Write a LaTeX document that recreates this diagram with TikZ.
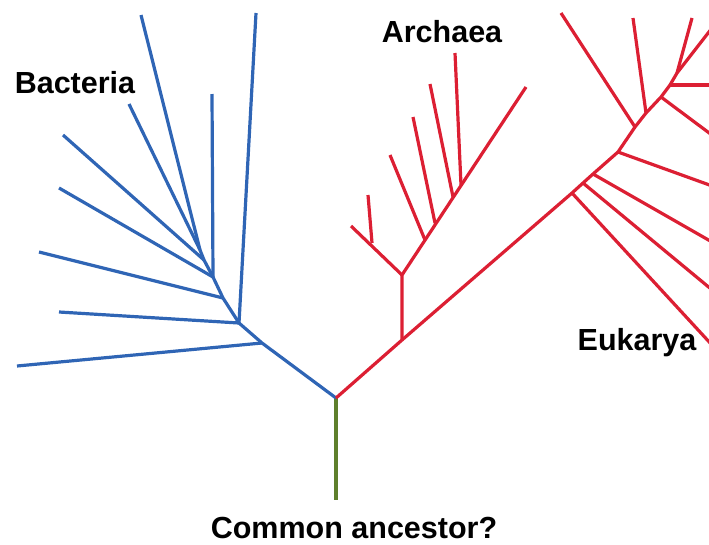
\documentclass[tikz,border=0pt]{standalone}
\usepackage{fontspec}
\setmainfont{Liberation Sans}
\usetikzlibrary{positioning}
\definecolor{BactBlue}{HTML}{2F65B5}
\definecolor{ArchRed}{HTML}{DC1F33}
\definecolor{RootGreen}{HTML}{5E7F2C}

\begin{document}
\begin{tikzpicture}[
    x=1pt,y=-1pt,
    branch/.style={line width=3.2pt,line join=round},
    groupname/.style={
      font=\fontsize{30.5}{36}\selectfont\bfseries,
      anchor=base,
      inner sep=0pt
    }
  ]
  \useasboundingbox (0,0) rectangle (709,544);
  % root and stem
  \coordinate (root) at (336,398);
  \coordinate (stem) at (336,500);
  % bacteria
  \coordinate (b1) at (262,343);
  \coordinate (b2) at (239,323);
  \coordinate (b3) at (223,298);
  \coordinate (b4) at (213,277);
  \coordinate (b5) at (204,260);
  \coordinate (b6) at (200,250);
  \coordinate (bt1) at (17,366);
  \coordinate (bt2) at (59,312);
  \coordinate (bt3) at (256,13);
  \coordinate (bt4) at (39,252);
  \coordinate (bt5) at (212,94);
  \coordinate (bt6) at (59,188);
  \coordinate (bt7) at (63,135);
  \coordinate (bt8) at (129,104);
  \coordinate (bt9) at (141,15);
  % archaea
  \coordinate (a0) at (402,340);
  \coordinate (a1) at (402,275);
  \coordinate (a2) at (372,243);
  \coordinate (a3) at (425,240);
  \coordinate (a4) at (435,223);
  \coordinate (a5) at (453,197);
  \coordinate (a6) at (461,185);
  \coordinate (at1) at (351,226);
  \coordinate (at2) at (368,195);
  \coordinate (at3) at (390,155);
  \coordinate (at4) at (413,117);
  \coordinate (at5) at (430,84);
  \coordinate (at6) at (455,53);
  \coordinate (at7) at (526,87);
  % eukarya
  \coordinate (e1) at (572,193);
  \coordinate (e2) at (583,183);
  \coordinate (e3) at (593,174);
  \coordinate (e4) at (618,152);
  \coordinate (e5) at (635,127);
  \coordinate (e6) at (646,113);
  \coordinate (e7) at (661,97);
  \coordinate (e8) at (670,85);
  \coordinate (e9) at (677,73);
  \coordinate (et1) at (735,370);
  \coordinate (et2) at (740,313);
  \coordinate (et3) at (740,258);
  \coordinate (et4) at (740,196);
  \coordinate (et5) at (561,13);
  \coordinate (et6) at (633,18);
  \coordinate (et7) at (740,156);
  \coordinate (et8) at (740,85);
  \coordinate (et9) at (692,18);
  \coordinate (et10) at (740,-8);

  \begin{scope}
    \clip (0,0) rectangle (709,544);
    \draw[branch,RootGreen] (root) -- (stem);
    \draw[branch,BactBlue] (root) -- (b1) -- (b2) -- (b3) -- (b4) -- (b5) -- (b6);
    \foreach \from/\tip in {b1/bt1,b2/bt2,b2/bt3,b3/bt4,b4/bt5,b4/bt6,b5/bt7,b6/bt8,b6/bt9}
      \draw[branch,BactBlue] (\from) -- (\tip);
    \draw[branch,ArchRed] (root) -- (a0) -- (a1) -- (at7);
    \draw[branch,ArchRed] (a1) -- (at1);
    \foreach \from/\tip in {a2/at2,a3/at3,a4/at4,a5/at5,a6/at6}
      \draw[branch,ArchRed] (\from) -- (\tip);
    \draw[branch,ArchRed] (a0) -- (e1) -- (e2) -- (e3) -- (e4) -- (e5) -- (e6)
      -- (e7) -- (e8) -- (e9) -- (et10);
    \foreach \from/\tip in {e1/et1,e2/et2,e3/et3,e4/et4,e5/et5,e6/et6,e7/et7,e8/et8,e9/et9}
      \draw[branch,ArchRed] (\from) -- (\tip);
  \end{scope}

  \node[groupname] (bacteria) at (75,93) {Bacteria};
  \node[groupname] (archaea) at (442,42) {Archaea};
  \node[groupname] (eukarya) at (637,350) {Eukarya};
  \node[groupname] (ancestor) at (354,538) {Common ancestor?};
\end{tikzpicture}
\end{document}
